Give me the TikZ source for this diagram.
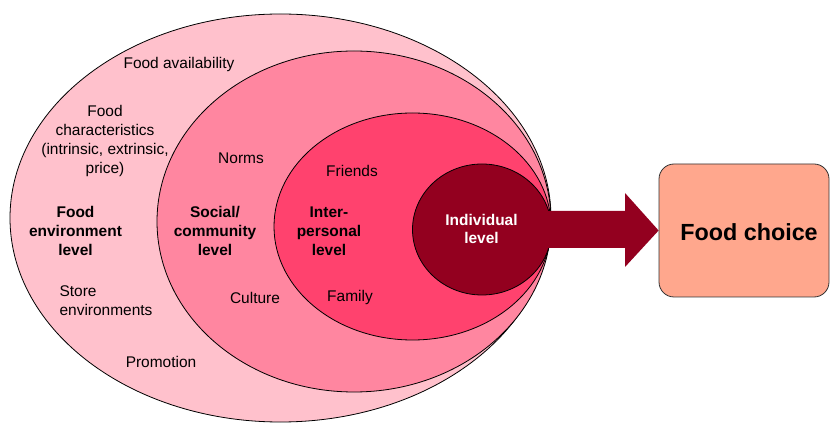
\documentclass[tikz,border=0pt]{standalone}
\usepackage{fontspec}
\setmainfont{Liberation Sans}
\usetikzlibrary{shapes.geometric}
\definecolor{lvlA}{RGB}{255,193,204}
\definecolor{lvlB}{RGB}{255,134,160}
\definecolor{lvlC}{RGB}{255,66,110}
\definecolor{lvlD}{RGB}{147,0,31}
\definecolor{choicefill}{RGB}{255,167,141}
\tikzset{
  ring/.style={ellipse, draw=black, line width=0.6pt, inner sep=0pt},
  lbl/.style={align=center, font=\fontsize{11.6pt}{14.4pt}\selectfont, inner sep=0pt},
  blbl/.style={lbl, font=\fontsize{11.6pt}{14.4pt}\selectfont\bfseries},
}
\begin{document}
\begin{tikzpicture}[x=0.75pt,y=-0.75pt]
\useasboundingbox (0,0) rectangle (830,423);
\node[ring, fill=lvlA, minimum width=541*0.75pt, minimum height=408*0.75pt] (outer) at (280.5,218) {};
\node[ring, fill=lvlB, minimum width=394*0.75pt, minimum height=341*0.75pt] (social) at (354,221.5) {};
\node[ring, fill=lvlC, minimum width=277*0.75pt, minimum height=227*0.75pt] (inter) at (412.5,226.5) {};
\node[ring, fill=lvlD, minimum width=139*0.75pt, minimum height=131*0.75pt] (indiv) at (482,229.5) {};
\node[draw=black!80, line width=0.6pt, fill=choicefill, rounded corners=15*0.75pt, minimum width=170*0.75pt, minimum height=133*0.75pt, inner sep=0pt] (choice) at (744,230.5) {};
\node[font=\fontsize{17.5pt}{20pt}\selectfont\bfseries] at (749,232) {Food choice};
% arrow
\coordinate (tail) at (indiv.east);
\fill[lvlD] (548,211) -- (625,211) -- (625,193) -- (choice.west) -- (625,267) -- (625,248) -- (548,248) -- cycle;
% labels
\node[lbl] (avail) at (179,65) {Food availability};
\node[lbl] (charac) at (105,141) {Food\\characteristics\\(intrinsic, extrinsic,\\price)};
\node[blbl] (envlvl) at (75.5,231) {Food\\environment\\level};
\node[lbl, align=left] (store) at (106,301) {Store\\environments};
\node[lbl] (promo) at (161,362) {Promotion};
\node[lbl] (norms) at (241,158) {Norms};
\node[blbl] (soclvl) at (215,231) {Social/\\community\\level};
\node[lbl] (culture) at (255,298) {Culture};
\node[lbl] (friends) at (352,171) {Friends};
\node[blbl] (interlvl) at (329,231) {Inter-\\personal\\level};
\node[lbl] (family) at (350,298) {Family};
\node[blbl, text=white, font=\fontsize{11.6pt}{13.5pt}\selectfont\bfseries] (indlvl) at (481.5,229) {Individual\\level};
\end{tikzpicture}
\end{document}
